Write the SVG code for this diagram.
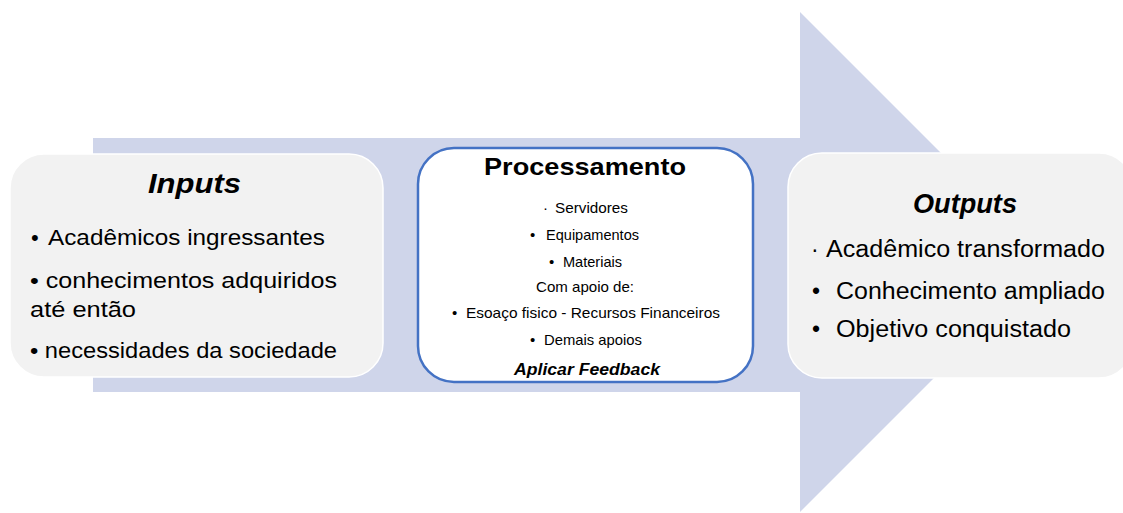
<svg xmlns="http://www.w3.org/2000/svg" width="1123" height="513" viewBox="0 0 1123 513">
<style>
.box{fill:#f2f2f2;stroke:#ffffff;stroke-width:1.5}
.big{font-family:"Liberation Sans",Arial,sans-serif;font-size:22px;fill:#000}
.out{font-family:"Liberation Sans",Arial,sans-serif;font-size:23px;fill:#000}
.ttl{font-family:"Liberation Sans",Arial,sans-serif;font-size:27px;font-weight:bold;font-style:italic;fill:#000}
.sm{font-family:"Liberation Sans",Arial,sans-serif;font-size:15px;fill:#000}
</style>
<rect width="1123" height="513" fill="#ffffff"/>
<g id="connectors">
<path d="M93,138 H800 V12 L1050,262 L800,512 V392 H93 Z" fill="#cfd5ea"/>
</g>
<g id="inputs">
<rect class="box" x="10" y="154" width="373" height="223" rx="34"/>
<text class="ttl" x="148" y="193" textLength="93" lengthAdjust="spacingAndGlyphs">Inputs</text>
<text class="big" x="31" y="245">•</text>
<text class="big" x="48" y="245" textLength="277" lengthAdjust="spacingAndGlyphs">Acadêmicos ingressantes</text>
<text class="big" x="30" y="288" textLength="307" lengthAdjust="spacingAndGlyphs">• conhecimentos adquiridos</text>
<text class="big" x="30" y="317" textLength="106" lengthAdjust="spacingAndGlyphs">até então</text>
<text class="big" x="30" y="358" textLength="307" lengthAdjust="spacingAndGlyphs">• necessidades da sociedade</text>
</g>
<g id="processamento">
<rect x="418" y="148" width="335" height="234" rx="36" fill="#ffffff" stroke="#4472c4" stroke-width="2.5"/>
<text x="585" y="175" text-anchor="middle" font-family="'Liberation Sans',Arial,sans-serif" font-size="24" font-weight="bold" textLength="202" lengthAdjust="spacingAndGlyphs">Processamento</text>
<text class="sm" x="543" y="213">·</text>
<text class="sm" x="555" y="213" textLength="73" lengthAdjust="spacingAndGlyphs">Servidores</text>
<text class="sm" x="530" y="240">•</text>
<text class="sm" x="546" y="240" textLength="93" lengthAdjust="spacingAndGlyphs">Equipamentos</text>
<text class="sm" x="549" y="267">•</text>
<text class="sm" x="563" y="267" textLength="59" lengthAdjust="spacingAndGlyphs">Materiais</text>
<text class="sm" x="536" y="292" textLength="98" lengthAdjust="spacingAndGlyphs">Com apoio  de:</text>
<text class="sm" x="452" y="318">•</text>
<text class="sm" x="466" y="318" textLength="254" lengthAdjust="spacingAndGlyphs">Esoaço fisico -  Recursos Financeiros</text>
<text class="sm" x="530" y="345">•</text>
<text class="sm" x="544" y="345" textLength="98" lengthAdjust="spacingAndGlyphs">Demais apoios</text>
<text x="587" y="375" text-anchor="middle" font-family="'Liberation Sans',Arial,sans-serif" font-size="16" font-weight="bold" font-style="italic" textLength="146" lengthAdjust="spacingAndGlyphs">Aplicar Feedback</text>
</g>
<g id="outputs">
<rect class="box" x="788" y="153" width="345" height="225" rx="34"/>
<text class="ttl" x="913" y="213" textLength="104" lengthAdjust="spacingAndGlyphs">Outputs</text>
<text class="out" x="811" y="257">·</text>
<text class="out" x="826" y="257" textLength="279" lengthAdjust="spacingAndGlyphs">Acadêmico transformado</text>
<text class="out" x="812" y="299">•</text>
<text class="out" x="836" y="299" textLength="269" lengthAdjust="spacingAndGlyphs">Conhecimento ampliado</text>
<text class="out" x="812" y="337">•</text>
<text class="out" x="836" y="337" textLength="235" lengthAdjust="spacingAndGlyphs">Objetivo conquistado</text>
</g>
</svg>
